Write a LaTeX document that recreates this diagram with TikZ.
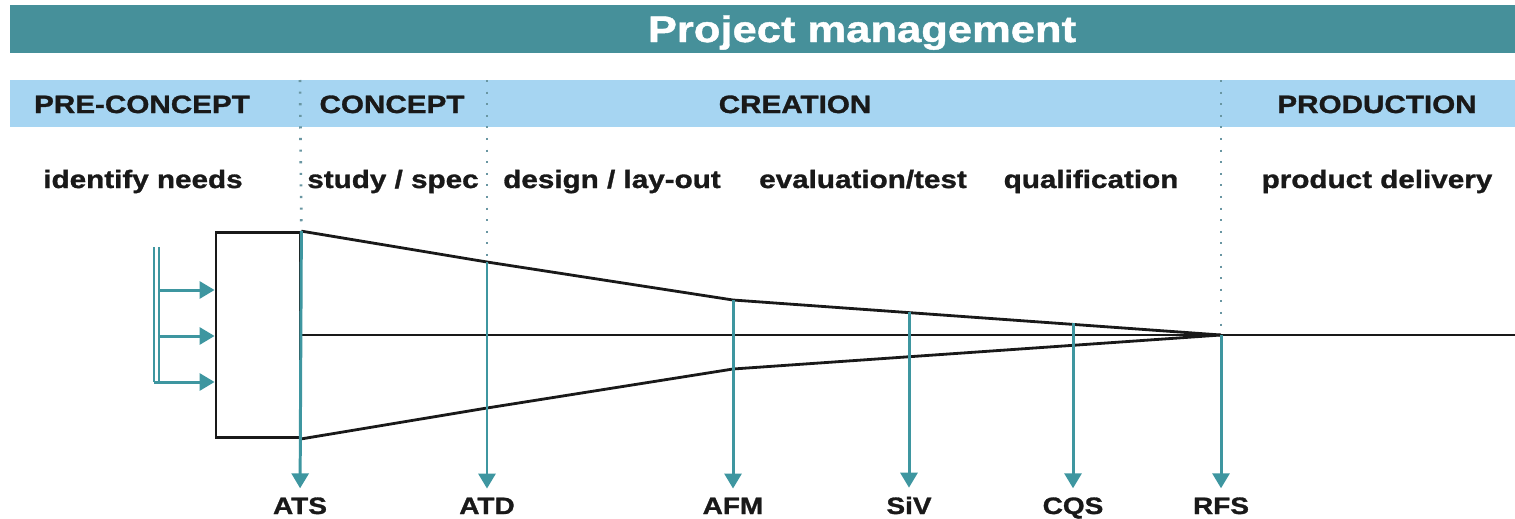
\documentclass[tikz,border=0pt]{standalone}
\usepackage{fontspec}
\newfontfamily\labelfont[FakeStretch=1.18, FakeBold=1.2]{Liberation Sans}
\usetikzlibrary{arrows.meta}

\definecolor{barteal}{RGB}{70,144,154}
\definecolor{barblue}{RGB}{166,213,242}
\definecolor{arrteal}{RGB}{62,150,160}
\definecolor{dotgray}{RGB}{105,150,162}

\tikzset{title_style/.style={font=\labelfont\bfseries\fontsize{21}{24}\selectfont, text=white, anchor=base, inner sep=0pt}}
\tikzset{phase_style/.style={font=\labelfont\bfseries\fontsize{14.3}{16}\selectfont, text=black!90, anchor=base, inner sep=0pt}}
\tikzset{ms_style/.style={font=\labelfont\bfseries\fontsize{13.5}{15}\selectfont, text=black!90, anchor=base, inner sep=0pt}}
\tikzset{line_style/.style={black!90, line width=1.6pt}}
\tikzset{arr_style/.style={arrteal, line width=1.7pt, -{Triangle[length=0.3cm, width=0.34cm]}}}
\tikzset{dot_style/.style={dotgray, line width=1.5pt, dash pattern=on 1.2pt off 5.4pt}}

\begin{document}
\begin{tikzpicture}[x=0.02cm, y=-0.02cm]
    \useasboundingbox (0,0) rectangle (1515,518);

    \fill[barteal] (10,5) rectangle (1515,53);
    \fill[barblue] (10,80) rectangle (1515,127);
    \node[title_style] (title) at (862,42) {Project management};

    \node[phase_style] (pre) at (142,113) {PRE-CONCEPT};
    \node[phase_style] (con) at (392,113) {CONCEPT};
    \node[phase_style] (cre) at (795,113) {CREATION};
    \node[phase_style] (pro) at (1377,113) {PRODUCTION};

    \node[phase_style] (needs) at (143,188) {identify needs};
    \node[phase_style] (study) at (393,188) {study / spec};
    \node[phase_style] (design) at (612,188) {design / lay-out};
    \node[phase_style] (eval) at (863,188) {evaluation/test};
    \node[phase_style] (qual) at (1091,188) {qualification};
    \node[phase_style] (deliv) at (1377,188) {product delivery};

    \node[line_style, draw, minimum width=1.68cm, minimum height=4.1cm, inner sep=0pt] (box) at (258,335) {};

    \coordinate (atd_u) at (487,262);
    \coordinate (atd_l) at (487,408);
    \coordinate (afm_u) at (733,300);
    \coordinate (afm_l) at (733,369);
    \coordinate (siv_u) at (909,312);
    \coordinate (cqs_u) at (1073,323);
    \coordinate (rfs) at (1221,335);
    \coordinate (end) at (1515,335);

    \coordinate (d1) at (300,80);
    \coordinate (d2) at (487,80);
    \coordinate (d3) at (1221,80);
    \draw[dot_style] (d1) -- (box.north east);
    \draw[dot_style] (d2) -- (atd_u);
    \draw[dot_style] (d3) -- (rfs);

    \draw[line_style] (box.north east) -- (atd_u) -- (afm_u) -- (rfs);
    \draw[line_style] (box.south east) -- (atd_l) -- (afm_l) -- (rfs);
    \draw[line_style] (box.east) -- (end);

    \node[ms_style] (ats) at (300,514) {ATS};
    \node[ms_style] (atd) at (487,514) {ATD};
    \node[ms_style] (afm) at (733,514) {AFM};
    \node[ms_style] (siv) at (909,514) {SiV};
    \node[ms_style] (cqs) at (1073,514) {CQS};
    \node[ms_style] (rfs_l) at (1221,514) {RFS};

    \draw[arr_style, shorten >=5pt] (box.north east) -- (ats);
    \draw[arr_style, shorten >=5pt] (atd_u) -- (atd);
    \draw[arr_style, shorten >=5pt] (afm_u) -- (afm);
    \draw[arr_style, shorten >=5pt] (siv_u) -- (siv);
    \draw[arr_style, shorten >=5pt] (cqs_u) -- (cqs);
    \draw[arr_style, shorten >=5pt] (rfs) -- (rfs_l);

    \coordinate (in0) at (154,247);
    \coordinate (in3) at (154,382);
    \coordinate (in0b) at (159,247);
    \coordinate (in1) at (159,290);
    \coordinate (in2) at (159,336);
    \coordinate (in3b) at (159,382);
    \draw[arrteal, line width=1.4pt] (in0) -- (in3);
    \draw[arrteal, line width=1.4pt] (in0b) -- (in3b);
    \draw[arr_style] (in1) -- (box.west |- in1);
    \draw[arr_style] (in2) -- (box.west |- in2);
    \draw[arr_style] (in3) -- (box.west |- in3);
\end{tikzpicture}
\end{document}
